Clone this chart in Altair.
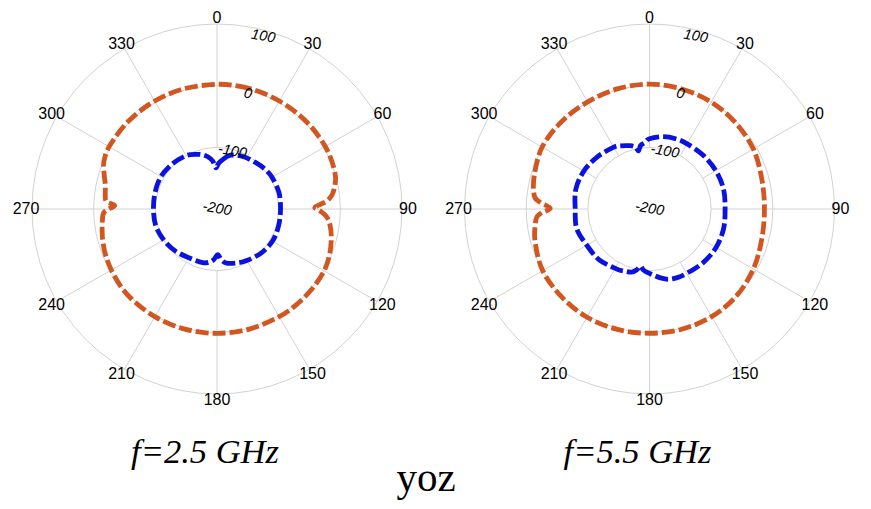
import altair as alt
import pandas as pd

# ------------------------------------------------------------------ data
ANGLE_TICKS = [0, 30, 60, 90, 120, 150, 180, 210, 240, 270, 300, 330]
RADIAL_TICKS = [-200, -100, 0, 100]
GRID_RINGS = [-100, 0, 100]
R_MIN, R_MAX = -200, 100
PANEL_TITLES = ["f=2.5 GHz", "f=5.5 GHz"]
MAIN_TITLE = "yoz"
SERIES = ["co", "cross"]

# f = 2.5 GHz, orange trace
L_CO_ANG = [0, 10, 20, 30, 40, 50, 60, 68, 75, 80, 83, 86, 89, 91, 94, 98, 104,
            112, 120, 130, 140, 150, 165, 180, 195, 210, 225, 237, 247, 254, 259,
            264, 268, 270, 272, 274, 278, 282, 287, 293, 301, 315, 330, 345]
L_CO_DB = [2.2, 2.2, 2.2, 2.2, 2.5, 2.7, 2.7, 1.5, -1.0, -7.0, -12, -22, -41, -33,
           -22, -15, -9, -3, 0.6, 1.4, 1.6, 1.6, 1.6, 1.6, 1.6, 1.6, 1.1, -1.2, -4.3,
           -7.5, -10.3, -13, -16, -24, -34, -20, -17, -15, -8.7, -0.9, 2.0, 2.2, 2.2, 2.2]
# f = 2.5 GHz, blue trace
L_X_ANG = [2, 6, 14, 27, 40, 50, 60, 75, 90, 105, 120, 135, 150, 160, 170, 175, 179,
           183, 187, 195, 210, 225, 240, 255, 270, 285, 300, 315, 330, 340, 345, 350,
           355, 358.5]
L_X_DB = [-126, -120, -110, -105, -102, -99, -97, -96, -97, -96.5, -96, -99, -103.5,
          -107, -111, -117, -126, -119, -114, -110, -108.8, -104, -100, -97, -97, -96,
          -95, -97, -100, -105.7, -109, -114, -122, -133]
# f = 5.5 GHz, orange trace
R_CO_ANG = [0, 15, 30, 45, 60, 75, 90, 105, 120, 135, 150, 165, 180, 195, 210, 225,
            240, 254, 263, 266, 268, 270.5, 273.5, 276.5, 286, 300, 315, 330, 345]
R_CO_DB = [2.6, 1.5, 0.2, -2.5, -5.5, -11.5, -13.6, -11.5, -5.5, -0.6, 1.5, 1.8, 1.5,
           2.0, 2.6, 1.5, 0.0, -7.0, -13.6, -17, -25, -39, -22.5, -12, -5.5, 1.0, 1.0,
           0.5, 1.6]
# f = 5.5 GHz, blue trace
R_X_ANG = [0, 11, 21, 30, 45, 60, 75, 90, 105, 120, 135, 150, 158, 165, 171, 177, 182,
           186, 189, 192, 196, 203, 209, 225, 240, 255, 270, 285, 300, 315, 330, 335,
           343, 347, 349.3, 352, 356]
R_X_DB = [-86, -80.6, -78.4, -78, -76.8, -75.7, -75.7, -77.4, -75.7, -75.4, -77, -79.5,
          -80, -82, -87, -93, -97, -101, -106, -99, -93.5, -91, -89, -84, -82.6, -77.8,
          -79.5, -76.3, -77, -80.4, -84.3, -87, -92.7, -97, -104, -96, -92]

# ------------------------------------------------------------------ layout / style
W, H = 855, 493
OUTER_PX = 185.0
K = OUTER_PX / (R_MAX - R_MIN)          # pixels per dB
CX = [209.0, 641.5]
CY = [201.0, 201.0]
LABEL_R = 191.0
RLABEL_ANG = 15
TITLE_DX = -12
TITLE_Y = 455
MAIN_X, MAIN_Y = 418, 483
GRID = "#d2d2d2"
COLORS = ["#D2561F", "#0B12E0"]

XS = alt.Scale(domain=[0, W], nice=False, zero=False)
YS = alt.Scale(domain=[0, H], reverse=True, nice=False, zero=False)

CX_EXPR = f"datum.panel == 0 ? {CX[0]} : {CX[1]}"
CY_EXPR = f"datum.panel == 0 ? {CY[0]} : {CY[1]}"


def polar(chart, r_expr, ang_field="datum.ang", xname="px", yname="py"):
    return chart.transform_calculate(
        cx=CX_EXPR, cy=CY_EXPR
    ).transform_calculate(
        rr=r_expr
    ).transform_calculate(
        **{xname: f"datum.cx + datum.rr * sin({ang_field} * PI / 180)",
           yname: f"datum.cy - datum.rr * cos({ang_field} * PI / 180)"}
    )


traces = [
    (0, SERIES[0], L_CO_ANG, L_CO_DB),
    (0, SERIES[1], L_X_ANG, L_X_DB),
    (1, SERIES[0], R_CO_ANG, R_CO_DB),
    (1, SERIES[1], R_X_ANG, R_X_DB),
]
rows = []
for p, s, angs, dbs in traces:
    assert len(angs) == len(dbs), (p, s)
    for i, (a, d) in enumerate(zip(angs, dbs)):
        rows.append({"panel": p, "series": s, "ang": a, "db": d, "idx": i,
                     "grp": f"{p}-{s}"})
trace_df = pd.DataFrame(rows)

ring_df = pd.DataFrame([{"panel": p, "ring": v} for p in (0, 1) for v in GRID_RINGS])
spoke_df = pd.DataFrame([{"panel": p, "ang": a} for p in (0, 1) for a in ANGLE_TICKS])
alab_df = pd.DataFrame([{"panel": p, "ang": a, "label": str(a)}
                        for p in (0, 1) for a in ANGLE_TICKS])
rlab_df = pd.DataFrame([{"panel": p, "val": v, "label": str(v)}
                        for p in (0, 1) for v in RADIAL_TICKS])
title_df = pd.DataFrame([{"panel": p, "title": t} for p, t in enumerate(PANEL_TITLES)])
main_df = pd.DataFrame([{"title": MAIN_TITLE}])

# rings
rings = alt.Chart(ring_df).mark_point(
    shape="circle", filled=False, color=GRID, strokeWidth=1, opacity=1
).transform_calculate(
    cx=CX_EXPR, cy=CY_EXPR
).transform_calculate(
    sz=f"pow(2 * (datum.ring - {R_MIN}) * {K}, 2)"
).encode(
    x=alt.X("cx:Q", scale=XS, axis=None),
    y=alt.Y("cy:Q", scale=YS, axis=None),
    size=alt.Size("sz:Q", scale=None),
)

# spokes (from the -100 ring to the outer ring)
r_in = (GRID_RINGS[0] - R_MIN) * K
spokes = alt.Chart(spoke_df).mark_rule(color=GRID, strokeWidth=1).transform_calculate(
    cx=CX_EXPR, cy=CY_EXPR
).transform_calculate(
    x1=f"datum.cx + {r_in} * sin(datum.ang * PI / 180)",
    y1=f"datum.cy - {r_in} * cos(datum.ang * PI / 180)",
    x2=f"datum.cx + {OUTER_PX} * sin(datum.ang * PI / 180)",
    y2=f"datum.cy - {OUTER_PX} * cos(datum.ang * PI / 180)",
).encode(
    x=alt.X("x1:Q", scale=XS, axis=None),
    y=alt.Y("y1:Q", scale=YS, axis=None),
    x2="x2:Q",
    y2="y2:Q",
)

# traces
lines = polar(alt.Chart(trace_df), f"(datum.db - {R_MIN}) * {K}").mark_line(
    strokeWidth=4.8, strokeDash=[13, 4], interpolate="cardinal-closed", strokeCap="butt"
).encode(
    x=alt.X("px:Q", scale=XS, axis=None),
    y=alt.Y("py:Q", scale=YS, axis=None),
    color=alt.Color("series:N", scale=alt.Scale(domain=SERIES, range=COLORS), legend=None),
    detail="grp:N",
    order=alt.Order("idx:Q"),
)

# angle labels
alabels = polar(alt.Chart(alab_df), f"{LABEL_R}").mark_text(
    font="Liberation Sans", fontSize=16, color="#000000", align="center", baseline="middle"
).encode(
    x=alt.X("px:Q", scale=XS, axis=None),
    y=alt.Y("py:Q", scale=YS, axis=None),
    text="label:N",
)

# radial labels
rlabels = polar(alt.Chart(rlab_df), f"(datum.val - {R_MIN}) * {K} * 0.965",
                ang_field=str(RLABEL_ANG)).mark_text(
    font="Liberation Sans", fontSize=14.5, fontStyle="italic", color="#000000",
    align="center", baseline="middle", angle=10
).encode(
    x=alt.X("px:Q", scale=XS, axis=None),
    y=alt.Y("py:Q", scale=YS, axis=None),
    text="label:N",
)

# panel titles
ptitles = alt.Chart(title_df).mark_text(
    font="Liberation Serif", fontSize=34.5, fontStyle="italic", color="#000000",
    align="center", baseline="alphabetic"
).transform_calculate(
    cx=CX_EXPR
).transform_calculate(
    tx=f"datum.cx + {TITLE_DX}", ty=f"{TITLE_Y}"
).encode(
    x=alt.X("tx:Q", scale=XS, axis=None),
    y=alt.Y("ty:Q", scale=YS, axis=None),
    text="title:N",
)

mtitle = alt.Chart(main_df).mark_text(
    font="Liberation Serif", fontSize=41, color="#000000", align="center",
    baseline="alphabetic"
).transform_calculate(
    tx=f"{MAIN_X}", ty=f"{MAIN_Y}"
).encode(
    x=alt.X("tx:Q", scale=XS, axis=None),
    y=alt.Y("ty:Q", scale=YS, axis=None),
    text="title:N",
)

chart = alt.layer(
    rings, spokes, lines, alabels, rlabels, ptitles, mtitle
).properties(
    width=W, height=H, padding=0,
    autosize=alt.AutoSizeParams(type="none"),
    background="white",
).configure_view(stroke=None)

chart.save("out.html", embed_options={"renderer": "svg", "actions": False})
